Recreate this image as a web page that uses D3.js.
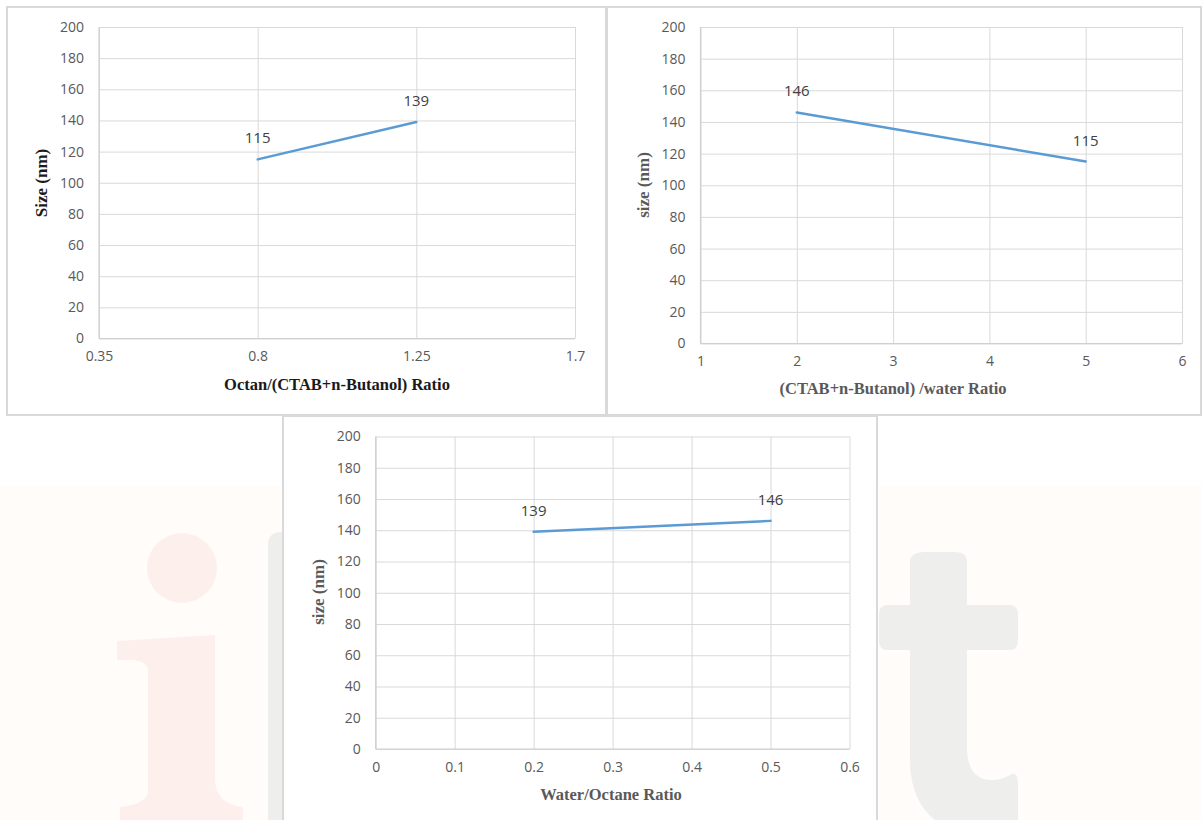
<!DOCTYPE html>
<html>
<head>
<meta charset="utf-8">
<script src="https://cdn.jsdelivr.net/npm/d3@7"></script>
<style>
  html, body { margin: 0; padding: 0; background: #ffffff; }
  svg { display: block; }
</style>
</head>
<body>
<svg id="fig" width="1202" height="820"></svg>
<script>
// Particle size (nm) versus composition ratios of the microemulsion
const sizeTicks = [0, 20, 40, 60, 80, 100, 120, 140, 160, 180, 200];

const octanRatio = [0.8, 1.25];
const octanSize = [115, 139];
const octanTicks = [0.35, 0.8, 1.25, 1.7];

const surfWaterRatio = [2, 5];
const surfWaterSize = [146, 115];
const surfWaterTicks = [1, 2, 3, 4, 5, 6];

const waterOctaneRatio = [0.2, 0.5];
const waterOctaneSize = [139, 146];
const waterOctaneTicks = [0, 0.1, 0.2, 0.3, 0.4, 0.5, 0.6];

const xTitles = ["Octan/(CTAB+n-Butanol) Ratio", "(CTAB+n-Butanol) /water Ratio", "Water/Octane Ratio"];
const yTitles = ["Size (nm)", "size (nm)", "size (nm)"];

const svg = d3.select("#fig");

// ---- faint background logo behind the lower panel ----
const bg = svg.append("g");
bg.append("rect").attr("x", 0).attr("y", 485).attr("width", 1202).attr("height", 335).attr("fill", "#fffcfa");
const pink = "#fdf0ec", grey = "#eeeeec";
bg.append("circle").attr("cx", 182).attr("cy", 568).attr("r", 35).attr("fill", pink);
bg.append("path").attr("fill", pink).attr("d",
  "M117,641 L215,635 L215,780 Q216,804 243,807 L243,820 L120,820 L120,807 Q148,804 148,790 L148,672 Q148,660 130,660 L117,660 Z");
bg.append("path").attr("fill", grey).attr("d",
  "M268,545 Q268,532 282,532 L300,532 L300,820 L268,820 Z");
bg.append("path").attr("fill", grey).attr("d",
  "M910,562 Q910,552 925,552 L955,552 Q967,552 967,562 L967,605 L1010,605 Q1018,605 1018,615 L1018,640 Q1018,650 1010,650 " +
  "L967,650 L967,752 Q969,780 992,780 Q1002,780 1012,774 Q1018,772 1018,785 L1018,820 L935,820 Q910,800 910,760 L910,650 " +
  "L887,650 Q879,650 879,640 L879,615 Q879,605 887,605 L910,605 Z");

// ---- panel definitions ----
const panels = [
  { box: [7, 7, 599, 408], plot: { l: 99, r: 575, t: 27, b: 338.5 },
    xs: octanRatio, ys: octanSize, xTicks: octanTicks, xDomain: [0.35, 1.7], xFmt: d => String(d),
    xt: xTitles[0], yt: yTitles[0], xtPos: [337, 384], ytPos: [41, 183], titleColor: "#1a1a1a" },
  { box: [607, 7, 594, 408], plot: { l: 700.5, r: 1182, t: 27, b: 343.5 },
    xs: surfWaterRatio, ys: surfWaterSize, xTicks: surfWaterTicks, xDomain: [1, 6], xFmt: d => String(d),
    xt: xTitles[1], yt: yTitles[1], xtPos: [893, 388], ytPos: [643, 185], titleColor: "#595959" },
  { box: [283, 416, 594, 410], plot: { l: 375.7, r: 849.5, t: 436.5, b: 749 },
    xs: waterOctaneRatio, ys: waterOctaneSize, xTicks: waterOctaneTicks, xDomain: [0, 0.6], xFmt: d => String(d),
    xt: xTitles[2], yt: yTitles[2], xtPos: [611, 794], ytPos: [318, 592], titleColor: "#595959" }
];

const tickFont = "'Open Sans', 'Liberation Sans', sans-serif";
const titleFont = "'Liberation Serif', 'Times New Roman', serif";

panels.forEach(p => {
  const g = svg.append("g");
  const [bx, by, bw, bh] = p.box;
  g.append("rect").attr("x", bx).attr("y", by).attr("width", bw).attr("height", bh)
    .attr("fill", "#ffffff").attr("stroke", "#d9d9d9").attr("stroke-width", 2);

  const x = d3.scaleLinear().domain(p.xDomain).range([p.plot.l, p.plot.r]);
  const y = d3.scaleLinear().domain([0, 200]).range([p.plot.b, p.plot.t]);

  // horizontal gridlines + y tick labels
  const yAxis = d3.axisLeft(y).tickValues(sizeTicks)
    .tickSize(-(p.plot.r - p.plot.l)).tickPadding(15).tickFormat(d3.format("d"));
  const ya = g.append("g").attr("transform", `translate(${p.plot.l},0)`).call(yAxis);
  ya.select(".domain").remove();
  ya.selectAll(".tick line").attr("stroke", "#d9d9d9").attr("stroke-width", 1);
  ya.selectAll(".tick text").attr("fill", "#595959").style("font-family", tickFont).style("font-size", "14px");

  // vertical gridlines + x tick labels
  const xAxis = d3.axisBottom(x).tickValues(p.xTicks)
    .tickSize(-(p.plot.b - p.plot.t)).tickPadding(13).tickFormat(p.xFmt);
  const xa = g.append("g").attr("transform", `translate(0,${p.plot.b})`).call(xAxis);
  xa.select(".domain").remove();
  xa.selectAll(".tick line").attr("stroke", "#d9d9d9").attr("stroke-width", 1);
  xa.selectAll(".tick text").attr("fill", "#595959").style("font-family", tickFont).style("font-size", "14px");

  // axis lines
  g.append("line").attr("x1", p.plot.l).attr("x2", p.plot.r).attr("y1", p.plot.b).attr("y2", p.plot.b)
    .attr("stroke", "#cfcfcf").attr("stroke-width", 1.2);
  g.append("line").attr("x1", p.plot.l).attr("x2", p.plot.l).attr("y1", p.plot.t).attr("y2", p.plot.b)
    .attr("stroke", "#cfcfcf").attr("stroke-width", 1.2);

  // series line
  const pts = p.xs.map((v, i) => [v, p.ys[i]]);
  g.append("path").datum(pts)
    .attr("d", d3.line().x(d => x(d[0])).y(d => y(d[1])))
    .attr("fill", "none").attr("stroke", "#5b9bd5").attr("stroke-width", 2.5).attr("stroke-linecap", "round");

  // value labels
  g.selectAll(".val").data(pts).join("text")
    .attr("x", d => x(d[0])).attr("y", d => y(d[1]) - 16)
    .attr("text-anchor", "middle")
    .attr("fill", "#404040").style("font-family", tickFont).style("font-size", "15px")
    .text(d => d[1]);

  // axis titles
  g.append("text").attr("x", p.xtPos[0]).attr("y", p.xtPos[1]).attr("dy", "0.35em")
    .attr("text-anchor", "middle").style("font-family", titleFont).attr("font-weight", "bold")
    .style("font-size", "16.5px").attr("fill", p.titleColor).text(p.xt);
  g.append("text").attr("transform", `translate(${p.ytPos[0]},${p.ytPos[1]}) rotate(-90)`).attr("dy", "0.35em")
    .attr("text-anchor", "middle").style("font-family", titleFont).attr("font-weight", "bold")
    .style("font-size", "17px").attr("fill", p.titleColor).text(p.yt);
});
</script>
</body>
</html>
